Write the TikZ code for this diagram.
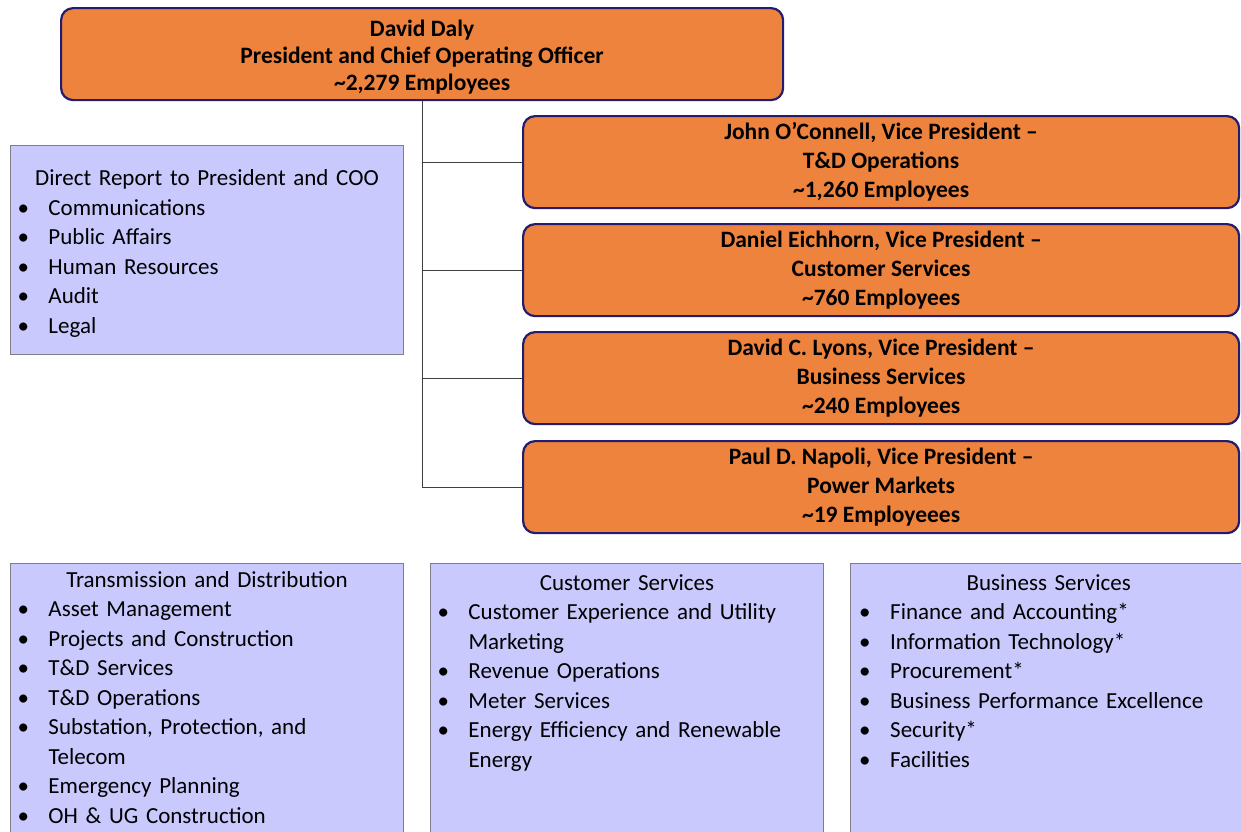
\documentclass[tikz,border=0pt]{standalone}
\usepackage{fontspec}
\setmainfont{Carlito}
\usepackage{xcolor}
\usepackage{tikz}
\usetikzlibrary{positioning,calc}

\definecolor{vporange}{HTML}{EE833D}
\definecolor{vpedge}{HTML}{241C6E}
\definecolor{unitfill}{HTML}{C9C9FD}
\definecolor{unitedge}{HTML}{7E7E88}

% bullet line with hanging indent
\newcommand{\unititem}[1]{\par\hangindent=30pt\hangafter=1\noindent\hbox to 30pt{\hspace{-1pt}\textbullet\hfill}#1}

\tikzset{
    vpbox/.style={draw=vpedge, line width=2.2pt, fill=vporange, rounded corners=12pt,
        minimum width=716pt, minimum height=92pt, inner sep=0pt, align=center,
        font=\fontsize{23.5}{29}\selectfont\bfseries, anchor=north west},
    unitbox/.style={draw=unitedge, line width=1pt, fill=unitfill, anchor=north west,
        minimum width=393pt, inner sep=0pt},
    unittext/.style={text width=377pt, inner sep=0pt, font=\fontsize{23}{29.5}\selectfont},
    orgline/.style={draw=black!75, line width=0.9pt}
}

\begin{document}
\begin{tikzpicture}[x=1pt,y=-1pt]
    \useasboundingbox (0,0) rectangle (1241,831);

    % President
    \node[vpbox, minimum width=722pt, font=\fontsize{23.5}{27}\selectfont\bfseries] (pres) at (60,7)
        {\rule{0pt}{23pt}David Daly\\President and Chief Operating Officer\\\textasciitilde2,279 Employees};

    % Vice presidents
    \node[vpbox] (vp1) at (522,115) {John O’Connell, Vice President –\\T\&D Operations\\\textasciitilde1,260 Employees};
    \node[vpbox] (vp2) at (522,223) {Daniel Eichhorn, Vice President –\\Customer Services\\\textasciitilde760 Employees};
    \node[vpbox] (vp3) at (522,331) {David C. Lyons, Vice President –\\Business Services\\\textasciitilde240 Employees};
    \node[vpbox] (vp4) at (522,440) {Paul D. Napoli, Vice President –\\Power Markets\\\textasciitilde19 Employeees};

    % Reporting lines
    \coordinate (trunk) at (422,0);
    \draw[orgline] (trunk |- pres.south) -- (trunk |- vp4.west) -- (vp4.west);
    \foreach \i in {1,2,3}
        \draw[orgline] (trunk |- vp\i.west) -- (vp\i.west);

    % Direct reports
    \node[unitbox, minimum height=209pt] (direct) at (10,145) {};
    \node[unittext] (directtext) at ($(direct.center)+(0,3.5)$) {%
        \centering Direct Report to President and COO\par\raggedright
        \unititem{Communications}
        \unititem{Public Affairs}
        \unititem{Human Resources}
        \unititem{Audit}
        \unititem{Legal}\par};

    % Organisation units (run off the bottom)
    \node[unitbox, minimum height=300pt] (tdbox) at (10,563) {};
    \node[unitbox, minimum height=300pt] (csbox) at (430,563) {};
    \node[unitbox, minimum height=300pt, minimum width=400pt] (bsbox) at (850,563) {};

    \node[unittext, anchor=north] (tdtext) at ($(tdbox.north)+(0,8)$) {%
        \centering Transmission and Distribution\par\raggedright
        \unititem{Asset Management}
        \unititem{Projects and Construction}
        \unititem{T\&D Services}
        \unititem{T\&D Operations}
        \unititem{Substation, Protection, and\newline Telecom}
        \unititem{Emergency Planning}
        \unititem{OH \& UG Construction}\par};
    \node[unittext, anchor=north] (cstext) at ($(csbox.north)+(0,11)$) {%
        \centering Customer Services\par\raggedright
        \unititem{Customer Experience and Utility\newline Marketing}
        \unititem{Revenue Operations}
        \unititem{Meter Services}
        \unititem{Energy Efficiency and Renewable\newline Energy}\par};
    \node[unittext, anchor=north west] (bstext) at ($(bsbox.north west)+(10,11)$) {%
        \centering Business Services\par\raggedright
        \unititem{Finance and Accounting*}
        \unititem{Information Technology*}
        \unititem{Procurement*}
        \unititem{Business Performance Excellence}
        \unititem{Security*}
        \unititem{Facilities}\par};
\end{tikzpicture}
\end{document}
